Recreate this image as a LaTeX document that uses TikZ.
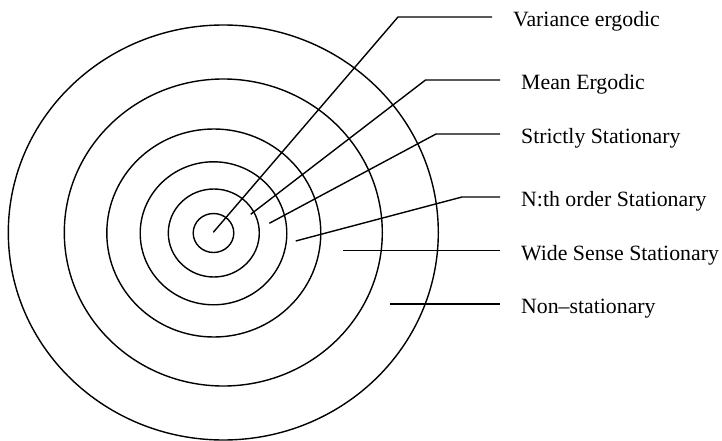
\documentclass[tikz,border=0pt]{standalone}
\usepackage{fontspec}
\setmainfont{Liberation Serif}
\begin{document}
\begin{tikzpicture}[x=1pt,y=-1pt,
  ring/.style={line width=1.4pt},
  conn/.style={line width=1.4pt},
  lab/.style={anchor=base west, inner sep=0pt, font=\fontsize{21.8}{26}\selectfont}]
\useasboundingbox (0,0) rectangle (722,441);
% rings
\draw[ring] (213.5,233) ellipse [x radius=20.3pt, y radius=19.5pt];
\draw[ring] (213.8,233) ellipse [x radius=45.5pt, y radius=44pt];
\draw[ring] (213.5,233.3) ellipse [x radius=73.3pt, y radius=71.5pt];
\draw[ring] (213.8,233) ellipse [x radius=107pt, y radius=104pt];
\draw[ring] (223.3,232.5) ellipse [x radius=159pt, y radius=153.5pt];
\draw[ring] (223.3,232.5) ellipse [x radius=215pt, y radius=207.5pt];
% labels
\node[lab] (l1) at (513,26.5) {Variance ergodic};
\node[lab] (l2) at (521,89.5) {Mean Ergodic};
\node[lab] (l3) at (521,143.5) {Strictly Stationary};
\node[lab] (l4) at (521,206.5) {N:th order Stationary};
\node[lab] (l5) at (521,260) {Wide Sense Stationary};
\node[lab] (l6) at (521,313.5) {Non–stationary};
% connector points
\coordinate (v0) at (213.3,232.3); \coordinate (v1) at (398,17);
\coordinate (m0) at (250.7,214.3); \coordinate (m1) at (425.5,80);
\coordinate (s0) at (269.3,223.3); \coordinate (s1) at (436,134);
\coordinate (n0) at (295.7,241);   \coordinate (n1) at (462,197);
\coordinate (w0) at (343,250.5);
\coordinate (x0) at (390,304);
% connectors
\draw[conn] (v0) -- (v1) -- ([xshift=-21pt]l1.west |- v1);
\draw[conn] (m0) -- (m1) -- ([xshift=-21pt]l2.west |- m1);
\draw[conn] (s0) -- (s1) -- ([xshift=-21pt]l3.west |- s1);
\draw[conn] (n0) -- (n1) -- ([xshift=-21pt]l4.west |- n1);
\draw[conn] (w0) -- ([xshift=-21pt]l5.west |- w0);
\draw[conn] (x0) -- ([xshift=-21pt]l6.west |- x0);
\end{tikzpicture}
\end{document}
